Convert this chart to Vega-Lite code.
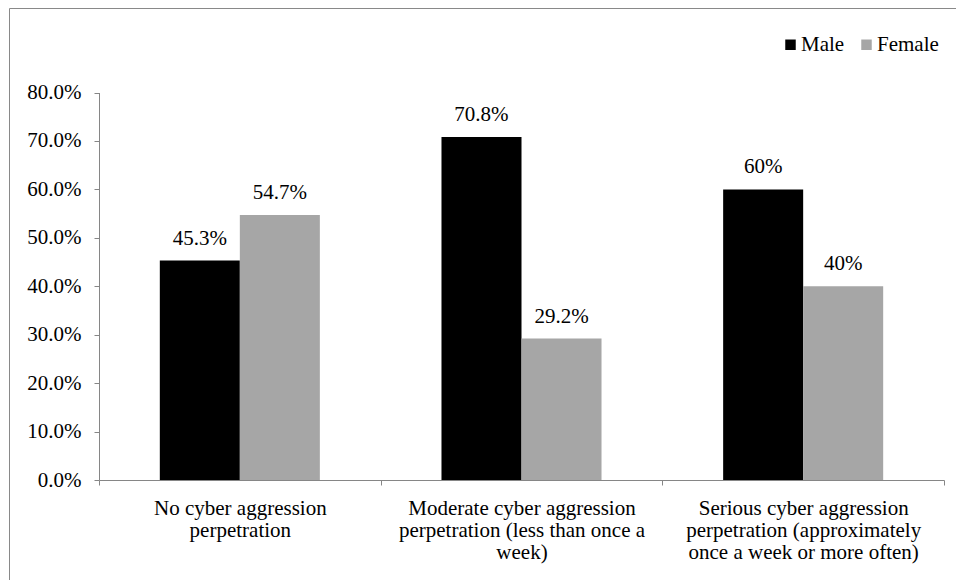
{
  "$schema": "https://vega.github.io/schema/vega-lite/v6.json",
  "autosize": {"type": "none"},
  "width": 960,
  "height": 580,
  "padding": {"left": 9, "top": 8, "right": -13, "bottom": -8},
  "background": "white",
  "config": {
    "view": {"stroke": "#898989", "strokeWidth": 1, "fill": "white"},
    "font": "Liberation Serif",
    "axis": {
      "labelFont": "Liberation Serif",
      "labelFontSize": 21,
      "labelColor": "#000000",
      "domainColor": "#868686",
      "tickColor": "#868686",
      "grid": false,
      "title": null
    },
    "legend": {"labelFont": "Liberation Serif"}
  },
  "data": {
    "values": [
      {"category": "No cyber aggression\nperpetration", "gender": "Male", "share": 0.453, "label": "45.3%"},
      {"category": "No cyber aggression\nperpetration", "gender": "Female", "share": 0.547, "label": "54.7%"},
      {"category": "Moderate cyber aggression\nperpetration (less than once a\nweek)", "gender": "Male", "share": 0.708, "label": "70.8%"},
      {"category": "Moderate cyber aggression\nperpetration (less than once a\nweek)", "gender": "Female", "share": 0.292, "label": "29.2%"},
      {"category": "Serious cyber aggression\nperpetration (approximately\nonce a week or more often)", "gender": "Male", "share": 0.60, "label": "60%"},
      {"category": "Serious cyber aggression\nperpetration (approximately\nonce a week or more often)", "gender": "Female", "share": 0.40, "label": "40%"}
    ]
  },
  "encoding": {
    "x": {
      "field": "category",
      "type": "nominal",
      "sort": null,
      "scale": {"range": [90, 935], "paddingInner": 0, "paddingOuter": 0},
      "axis": {
        "orient": "bottom",
        "offset": -108,
        "tickBand": "extent",
        "tickSize": 5,
        "labelPadding": 12,
        "labelAngle": 0,
        "labelLimit": 400,
        "labelLineHeight": 22,
        "labelExpr": "isString(datum.value) ? split(datum.value, '\\n') : ''"
      }
    },
    "xOffset": {
      "field": "gender",
      "type": "nominal",
      "sort": ["Male", "Female"],
      "scale": {"paddingInner": 0, "paddingOuter": 0.76}
    },
    "y": {
      "field": "share",
      "type": "quantitative",
      "scale": {"domain": [0, 0.8], "range": [472, 84.5], "nice": false, "zero": true},
      "axis": {
        "values": [0, 0.1, 0.2, 0.3, 0.4, 0.5, 0.6, 0.7, 0.8],
        "format": ".1%",
        "offset": -90,
        "tickSize": 5,
        "labelPadding": 13
      }
    }
  },
  "layer": [
    {
      "mark": {"type": "bar"},
      "encoding": {
        "color": {
          "field": "gender",
          "type": "nominal",
          "scale": {"domain": ["Male", "Female"], "range": ["#000000", "#a6a6a6"]},
          "legend": {
            "orient": "none",
            "legendX": 771,
            "legendY": 26,
            "direction": "horizontal",
            "title": null,
            "padding": 0,
            "symbolType": "square",
            "symbolSize": 110,
            "symbolStrokeWidth": 0,
            "labelFontSize": 21,
            "labelColor": "#000000",
            "labelOffset": 0,
            "columnPadding": 11
          }
        }
      }
    },
    {
      "mark": {"type": "text", "dy": -16, "baseline": "alphabetic", "fontSize": 21, "font": "Liberation Serif", "color": "#000000"},
      "encoding": {"text": {"field": "label"}}
    }
  ]
}
